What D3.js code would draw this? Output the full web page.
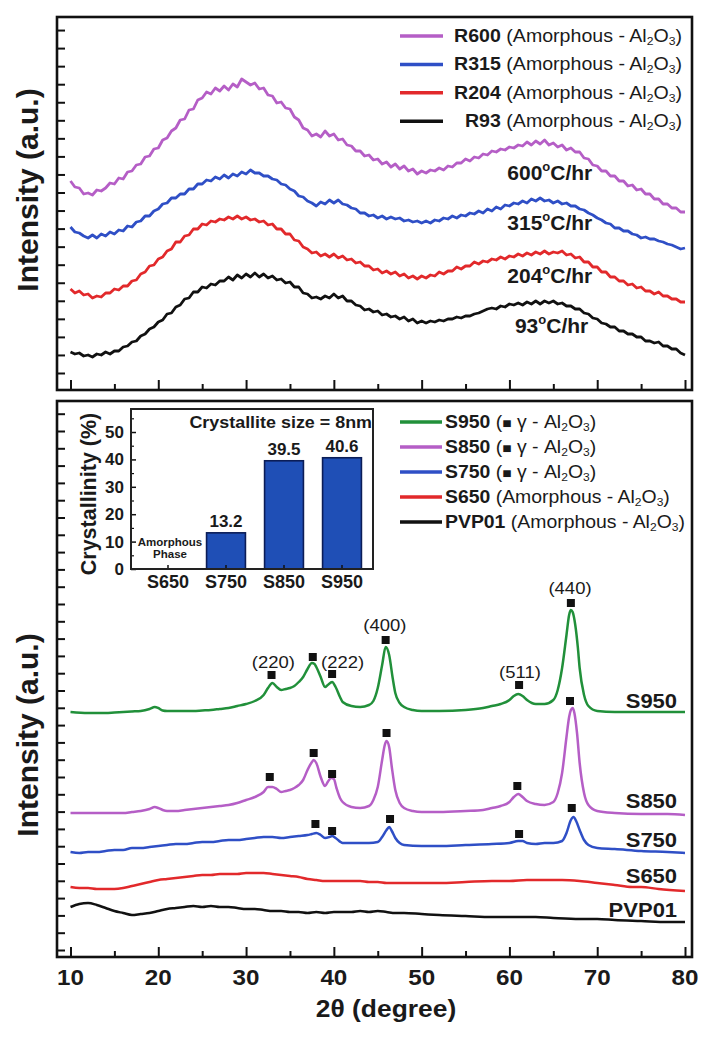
<!DOCTYPE html>
<html><head><meta charset="utf-8">
<script src="https://cdn.jsdelivr.net/npm/d3@7"></script>
<style>
body{margin:0;background:#fff}
svg{display:block}
text{font-family:"Liberation Sans",Arial,Helvetica,sans-serif;fill:#1a1a1a}
</style>
</head><body>
<svg id="c" width="714" height="1038"></svg>
<script>
// ---------------- DATA ----------------
// Top panel: 2θ sampled every 0.5° from 10 to 80
const twoThetaTop = d3.range(10, 80.001, 0.5);
const topSeriesNames = ["R600", "R315", "R204", "R93"];
const topRates = ["600", "315", "204", "93"];
const R600 = [
209,203,202,196,197,195,200,199,202,207,
206,212,211,218,219,225,226,233,234,241,
242,250,252,259,262,270,271,280,281,290,
292,298,296,302,299,304,300,306,303,311,
308,305,307,301,302,295,294,287,288,282,
281,273,270,262,260,254,256,253,259,254,
256,250,251,245,244,239,239,234,235,230,
231,226,228,223,226,221,224,219,221,216,
219,217,220,219,222,220,224,223,227,227,
231,229,233,232,236,235,239,238,241,240,
243,242,245,244,248,245,249,246,250,245,
247,243,245,240,242,238,238,232,231,225,
224,219,219,214,214,209,209,204,205,200,
201,196,196,191,191,186,186,182,182,178,
178];
const R315 = [
163,158,157,154,152,155,152,156,154,158,
156,160,159,164,163,168,169,174,174,179,
181,186,187,192,192,196,196,201,201,206,
206,210,209,213,211,215,212,216,214,218,
216,220,217,217,214,214,211,210,206,205,
201,199,194,193,189,187,184,188,186,190,
187,190,186,185,182,181,177,177,174,175,
172,174,171,173,171,172,169,170,168,169,
167,169,167,170,169,172,171,174,172,175,
174,177,176,179,177,181,179,183,181,185,
184,187,186,189,187,191,189,192,189,190,
187,189,186,187,184,184,181,180,177,175,
172,170,167,166,162,162,159,159,156,155,
152,153,151,151,149,148,146,145,143,141,
142];
const R204 = [
101,97,99,95,96,92,94,93,97,97,
101,100,104,104,109,110,116,118,124,125,
131,133,139,141,148,148,154,155,161,161,
166,165,169,168,171,170,173,171,174,171,
173,170,171,168,169,165,166,161,161,156,
156,150,149,143,141,137,138,134,136,133,
136,132,134,130,131,127,128,124,124,120,
121,117,119,116,118,114,116,112,114,111,
114,112,115,114,118,116,119,119,123,121,
124,124,128,126,129,128,131,130,133,131,
134,133,136,134,137,135,138,136,139,136,
138,137,139,135,136,132,133,128,128,123,
123,118,118,113,113,109,109,105,106,102,
103,99,99,96,98,94,94,91,91,88,
88];
const R93 = [
38,36,37,34,35,33,36,35,38,36,
39,39,43,44,48,49,54,56,61,63,
68,70,76,77,83,85,91,92,98,98,
103,102,106,105,109,109,113,110,115,112,
116,113,117,113,116,112,114,110,111,107,
108,103,103,97,96,92,93,91,94,92,
96,92,94,89,89,85,84,80,81,78,
79,75,76,73,74,71,73,69,71,67,
69,67,69,68,70,69,71,71,73,72,
74,74,76,77,79,81,82,81,84,83,
86,85,87,85,88,86,89,86,89,87,
89,86,87,84,84,81,81,77,76,72,
71,67,66,63,63,59,59,56,56,53,
53,49,49,47,48,44,44,41,41,37,
35];

// Bottom panel: [2θ, intensity] pairs
const bottomSeriesNames = ["S950", "S850", "S750", "S650", "PVP01"];
const S950 = [[10,245],[12,244],[14,244],[15,244.5],[16,245],[17,245.5],[18,246],[19,248],[19.6,250],[20,249],[20.5,246.5],[21,246],[22,246],[23,246],[24,246],[25,246.5],[26,247],[27,248],[28,249],[29,251],[30,253],[31,256],[32,262],[32.5,269],[33,274],[33.5,270],[34,267],[34.5,268],[35,269],[35.5,271],[36,275],[36.5,280],[37,288],[37.5,294],[37.8,293],[38,290],[38.5,280],[39,270],[39.3,272],[39.8,275],[40.2,270],[40.7,260],[41,255],[42,251],[43,250],[44,252],[44.5,256],[45,269],[45.5,292],[45.9,310],[46.3,302],[46.7,279],[47,264],[47.5,254],[48,250],[49,247],[50,246],[52,246],[55,247],[57,249],[58,251],[59,253],[60,257],[60.5,261],[61,263],[61.5,261],[62,257],[63,253],[64,253],[65,257],[65.5,267],[66,289],[66.5,322],[66.8,342],[67,347],[67.2,345],[67.5,332],[67.8,309],[68,289],[68.5,262],[69,251],[70,246],[72,245],[75,245],[78,245],[80,245]];
const S850 = [[10,144],[12,144],[14,144],[15,144],[16,144],[17,145],[18,146],[19,148],[19.6,150],[20,149],[20.5,147],[21,146],[22,146],[23,147],[24,148],[25,149],[26,150],[27,151],[28,152],[29,154],[30,157],[31,160],[32,165],[32.5,170],[33,170],[33.5,168],[34,165],[34.5,166],[35,167],[35.5,169],[36,172],[36.5,177],[37,187],[37.5,195],[37.7,197],[38,194],[38.5,180],[39,171],[39.3,175],[39.7,179],[40,178],[40.3,169],[40.7,159],[41,155],[42,150],[43,149],[44,151],[44.5,157],[45,170],[45.5,197],[45.8,212],[46,216],[46.3,210],[46.6,190],[47,167],[47.5,154],[48,149],[49,146],[50,145],[52,145],[55,146],[57,147],[58,149],[59,151],[60,155],[60.5,160],[61,163],[61.5,160],[62,156],[63,153],[64,152],[65,155],[65.5,164],[66,184],[66.5,220],[66.8,240],[67,247],[67.2,249],[67.4,244],[67.7,224],[68,194],[68.5,164],[69,152],[70,146],[72,144],[75,143],[78,143],[80,142]];
const S750 = [[10,105],[11,104],[12,105],[13,105],[14,106],[15,107],[16,107],[17,109],[18,109],[19,110],[20,111],[21,112],[22,113],[23,113],[24,114],[25,115],[26,115],[27,116],[28,117],[29,117],[30,118],[31,119],[32,120],[33,120],[34,119],[35,120],[36,121],[37,122],[37.5,123],[38,124],[38.5,122],[39,119],[39.5,120],[39.8,121],[40.2,119],[41,114],[42,114],[43,114],[44,114],[45,115],[45.5,120],[46,127],[46.3,130],[46.6,126],[47,119],[47.5,114],[48,112],[50,111],[52,111],[55,112],[58,113],[60,114],[61,116],[61.5,116],[62,114],[63,113],[64,114],[65,114],[66,116],[66.5,124],[67,137],[67.3,140],[67.6,136],[68,127],[68.5,117],[69,112],[70,109],[72,108],[75,106],[78,105],[80,104]];
const S650 = [[10,70],[11,69],[12,69],[13,68],[14,68],[15,68],[16,69],[17,71],[18,73],[19,75],[20,77],[21,78],[22,79],[23,80],[24,81],[25,82],[26,82],[27,83],[28,83],[29,83],[30,84],[31,84],[32,84],[33,83],[34,82],[35,81],[36,80],[37,78],[38,77],[39,76],[40,76],[41,76],[42,76],[43,76],[44,75],[45,75],[46,74],[47,74],[48,74],[50,74],[52,74],[55,75],[58,76],[60,76],[62,77],[64,77],[65,77],[66,77],[68,76],[70,74],[72,72],[74,70],[75,70],[77,68],[80,66]];
const PVP01 = [[10,50],[11,53],[12,54],[13,52],[14,49],[15,46],[16,44],[17,42],[18,43],[19,44],[20,46],[21,48],[22,49],[23,50],[24,51],[25,50],[26,51],[27,50],[28,50],[29,49],[30,48],[31,48],[32,47],[33,46],[34,46],[35,45],[36,45],[37,44],[38,45],[39,44],[40,45],[41,45],[42,45],[43,46],[44,45],[45,46],[46,45],[47,44],[48,44],[50,43],[52,42],[55,41],[58,40],[60,40],[63,40],[65,39],[68,38],[70,38],[72,37],[75,36],[78,35],[80,35]];

// γ-Al2O3 reflection markers [2θ, intensity]
const markS950 = [[32.9,282],[37.6,300],[39.8,283],[45.9,317],[61.1,272],[67.0,354]];
const markS850 = [[32.7,180],[37.7,204],[39.8,183],[46.0,224],[60.9,171],[66.9,256]];
const markS750 = [[37.9,133],[39.8,126],[46.4,138],[61.1,123],[67.1,149]];
const hklLabels = ["(220)", "(222)", "(400)", "(511)", "(440)"];
const hklAt = [[33.1,295],[41.0,295],[45.8,332],[61.2,285],[66.9,369]];

// Inset bar chart
const insetCats = ["S650", "S750", "S850", "S950"];
const crystallinity = [null, 13.2, 39.5, 40.6];
const insetTicks = [0, 10, 20, 30, 40, 50];

// x-axis tick labels
const xTickLabels = [10, 20, 30, 40, 50, 60, 70, 80];

// ---------------- DRAW ----------------
const svg = d3.select("#c");
const FL = 57, FR = 692;
const panT = {t: 17, b: 390};
const panB = {t: 401, b: 957};

const x = d3.scaleLinear().domain([10, 80]).range([70.5, 685]);
const yT = d3.scaleLinear().domain([0, 373]).range([panT.b, panT.t]);
const yB = d3.scaleLinear().domain([0, 556]).range([panB.b, panB.t]);

const colors = {R600:"#b55ec6", R315:"#2f4fc6", R204:"#e2292b", R93:"#111111",
  S950:"#21903a", S850:"#b55ec6", S750:"#2f4fc6", S650:"#e2292b", PVP01:"#111111"};

function styleAxis(g, w) {
  g.select(".domain").remove();
  g.selectAll(".tick line").attr("stroke", "#111").attr("stroke-width", w || 2);
}

// text placed at (px,py) and stretched horizontally by sx
function stext(px, py, sx) {
  return svg.append("text").attr("transform", `translate(${px},${py}) scale(${sx},1)`);
}

function panelAxes(p, yScale, yTickVals) {
  const gMaj = svg.append("g").attr("transform", `translate(0,${p.b})`)
    .call(d3.axisBottom(x).tickValues(d3.range(10, 81, 10)).tickSize(-10).tickFormat(""));
  styleAxis(gMaj);
  const gMin = svg.append("g").attr("transform", `translate(0,${p.b})`)
    .call(d3.axisBottom(x).tickValues(d3.range(15, 80, 10)).tickSize(-6).tickFormat(""));
  styleAxis(gMin);
  const gY = svg.append("g").attr("transform", `translate(${FL},0)`)
    .call(d3.axisLeft(yScale).tickValues(yTickVals).tickSize(-8).tickFormat(""));
  styleAxis(gY);
  svg.append("rect").attr("x", FL).attr("y", p.t).attr("width", FR - FL).attr("height", p.b - p.t)
    .attr("fill", "none").attr("stroke", "#111").attr("stroke-width", 2.6);
}

function rich(textSel, parts) {
  let shift = 0;
  parts.forEach(p => {
    const ts = textSel.append("tspan").text(p.t);
    const target = p.sub ? 3 : (p.sup ? -9 : 0);
    if (target !== shift) { ts.attr("dy", target - shift); shift = target; }
    if (p.sub || p.sup) ts.attr("font-size", "0.62em");
    if (p.sq) ts.attr("font-size", "0.8em");
    if (p.b) ts.attr("font-weight", "bold");
  });
}

// ---- Top panel ----
const topData = [R600, R315, R204, R93];
const lineT = d3.line().x((d, i) => x(twoThetaTop[i])).y(d => yT(d));
topData.forEach((arr, k) => {
  svg.append("path").datum(arr).attr("d", lineT).attr("fill", "none")
    .attr("stroke", colors[topSeriesNames[k]]).attr("stroke-width", 2.8)
    .attr("stroke-linejoin", "round");
});
panelAxes(panT, yT, d3.range(17, 365, 18.05));

// top legend
topSeriesNames.forEach((n, k) => {
  const yy = 36 + k * 28.4;
  svg.append("line").attr("x1", 400).attr("x2", 443).attr("y1", yy).attr("y2", yy)
    .attr("stroke", colors[n]).attr("stroke-width", 3.5);
  const t = stext(682, yy + 6, 1.12).attr("text-anchor", "end")
    .attr("font-size", 17.5).attr("fill", "#2a2a2a");
  rich(t, [{t: n, b: 1}, {t: " (Amorphous - Al"}, {t: "2", sub: 1}, {t: "O"}, {t: "3", sub: 1}, {t: ")"}]);
});

// heating-rate labels
const rateAt = [[64.6,210],[64.6,160],[64.6,107],[64.8,57]];
topRates.forEach((r, k) => {
  const t = svg.append("text").attr("x", x(rateAt[k][0])).attr("y", yT(rateAt[k][1]))
    .attr("text-anchor", "middle").attr("font-size", 21).attr("font-weight", "bold");
  rich(t, [{t: r}, {t: "o", sup: 1}, {t: "C/hr"}]);
});

// y title top
svg.append("text").attr("transform", `translate(38,190) rotate(-90)`).attr("text-anchor", "middle")
  .attr("font-size", 30).attr("font-weight", "bold").text("Intensity (a.u.)");

// ---- Bottom panel ----
const botData = [S950, S850, S750, S650, PVP01];
const lineB = d3.line().x(d => x(d[0])).y(d => yB(d[1])).curve(d3.curveMonotoneX);
botData.slice().reverse().forEach((arr, kk) => {
  const k = botData.length - 1 - kk;
  svg.append("path").datum(arr).attr("d", lineB).attr("fill", "none")
    .attr("stroke", colors[bottomSeriesNames[k]]).attr("stroke-width", 2.5)
    .attr("stroke-linejoin", "round");
});
panelAxes(panB, yB, d3.range(7, 550, 17.3));

// markers
[markS950, markS850, markS750].forEach(arr => {
  svg.selectAll(null).data(arr).enter().append("rect")
    .attr("x", d => x(d[0]) - 4).attr("y", d => yB(d[1]) - 4)
    .attr("width", 8).attr("height", 8).attr("fill", "#111");
});
// hkl labels
hklLabels.forEach((l, k) => {
  stext(x(hklAt[k][0]), yB(hklAt[k][1]) + 6, 1.12)
    .attr("text-anchor", "middle").attr("font-size", 16.5).attr("fill", "#2a2a2a").text(l);
});
// series labels at right
const sLabelV = [249, 149, 110, 74, 40];
bottomSeriesNames.forEach((n, k) => {
  stext(x(79.1), yB(sLabelV[k]), 1.1).attr("text-anchor", "end")
    .attr("font-size", 20).attr("font-weight", "bold").attr("fill", "#2a2a2a").text(n);
});

// bottom legend
bottomSeriesNames.forEach((n, k) => {
  const yy = 422 + k * 25;
  svg.append("line").attr("x1", 400).attr("x2", 442).attr("y1", yy).attr("y2", yy)
    .attr("stroke", colors[n]).attr("stroke-width", 3.5);
  const t = stext(445, yy + 6, 1.11).attr("font-size", 17.5).attr("fill", "#2a2a2a");
  if (k < 3) {
    rich(t, [{t: n, b: 1}, {t: " ("}, {t: "■", sq: 1}, {t: " γ - Al"}, {t: "2", sub: 1}, {t: "O"}, {t: "3", sub: 1}, {t: ")"}]);
  } else {
    rich(t, [{t: n, b: 1}, {t: " (Amorphous - Al"}, {t: "2", sub: 1}, {t: "O"}, {t: "3", sub: 1}, {t: ")"}]);
  }
});

// x tick labels and title
xTickLabels.forEach(v => {
  stext(x(v), 985, 1.1).attr("text-anchor", "middle")
    .attr("font-size", 22).attr("font-weight", "bold").text(v);
});
stext(386, 1017, 1.1).attr("text-anchor", "middle")
  .attr("font-size", 24).attr("font-weight", "bold").text("2θ (degree)");
svg.append("text").attr("transform", `translate(38,735) rotate(-90)`).attr("text-anchor", "middle")
  .attr("font-size", 30).attr("font-weight", "bold").text("Intensity (a.u.)");

// ---- Inset ----
const IL = 131, IR = 373, IT = 409, IB = 569;
const xi = d3.scaleBand().domain(insetCats).range([139, 371]).paddingInner(0.33).paddingOuter(0.165);
const yi = d3.scaleLinear().domain([0, 58.4]).range([IB, IT]);
svg.append("rect").attr("x", IL).attr("y", IT).attr("width", IR - IL).attr("height", IB - IT).attr("fill", "#fff");
insetCats.forEach((c, k) => {
  const v = crystallinity[k];
  if (v == null) return;
  svg.append("rect").attr("x", xi(c)).attr("y", yi(v)).attr("width", xi.bandwidth()).attr("height", yi(0) - yi(v))
    .attr("fill", "#1f4fb6").attr("stroke", "#0b1d57").attr("stroke-width", 1.6);
  svg.append("text").attr("x", xi(c) + xi.bandwidth() / 2).attr("y", yi(v) - 6).attr("text-anchor", "middle")
    .attr("font-size", 17).attr("font-weight", "bold").attr("fill", "#2a2a2a").text(v.toFixed(1));
});
const giY = svg.append("g").attr("transform", `translate(${IL},0)`)
  .call(d3.axisLeft(yi).tickValues(insetTicks).tickSize(-5).tickPadding(7));
styleAxis(giY, 1.5);
giY.selectAll("text").attr("font-size", 17).attr("font-weight", "bold").attr("fill", "#2a2a2a")
  .attr("font-family", '"Liberation Sans",Arial,sans-serif');
const giYm = svg.append("g").attr("transform", `translate(${IL},0)`)
  .call(d3.axisLeft(yi).tickValues([5, 15, 25, 35, 45, 55]).tickSize(-3).tickFormat(""));
styleAxis(giYm, 1.2);
const giX = svg.append("g").attr("transform", `translate(0,${IB})`)
  .call(d3.axisBottom(xi).tickSize(-4).tickPadding(6));
styleAxis(giX, 1.5);
giX.selectAll("text").attr("font-size", 18).attr("font-weight", "bold").attr("fill", "#2a2a2a")
  .attr("font-family", '"Liberation Sans",Arial,sans-serif');
svg.append("rect").attr("x", IL).attr("y", IT).attr("width", IR - IL).attr("height", IB - IT)
  .attr("fill", "none").attr("stroke", "#222").attr("stroke-width", 2);
stext(372, 428, 1.12).attr("text-anchor", "end")
  .attr("font-size", 16).attr("font-weight", "bold").attr("fill", "#2a2a2a").text("Crystallite size = 8nm");
const amX = xi("S650") + xi.bandwidth() / 2 + 2;
svg.append("text").attr("x", amX).attr("y", yi(10) + 4).attr("text-anchor", "middle")
  .attr("font-size", 11.5).attr("font-weight", "bold").attr("fill", "#444").text("Amorphous");
svg.append("text").attr("x", amX).attr("y", yi(10) + 16).attr("text-anchor", "middle")
  .attr("font-size", 11.5).attr("font-weight", "bold").attr("fill", "#444").text("Phase");
svg.append("text").attr("transform", `translate(96,494) rotate(-90)`).attr("text-anchor", "middle")
  .attr("font-size", 21.5).attr("font-weight", "bold").attr("fill", "#2a2a2a").text("Crystallinity (%)");
</script>
</body></html>
